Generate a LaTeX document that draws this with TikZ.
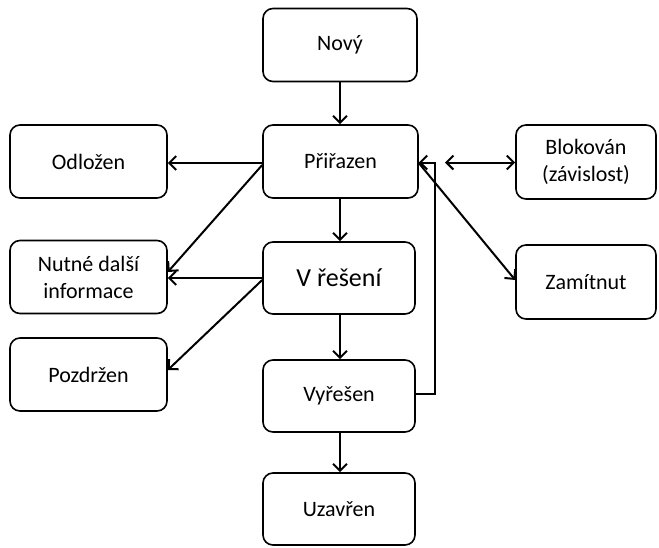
\documentclass[tikz,border=0pt]{standalone}
\usepackage{fontspec}
\setmainfont{Carlito}
\usetikzlibrary{arrows.meta}
\begin{document}
\begin{tikzpicture}[x=1pt,y=-1pt,
  state/.style={draw=black, line width=1.6pt, rounded corners=10pt, fill=white,
    align=center, inner sep=0pt, font=\fontsize{22}{27}\selectfont},
  tip/.tip={Straight Barb[length=7pt,width=14pt,line width=2pt]},
  flow/.style={line width=2pt, -tip},
  twoway/.style={line width=2pt, tip-tip}]
\useasboundingbox (0,0) rectangle (659,547);

% states
\node[state, minimum width=154pt, minimum height=73pt] (novy) at (340,45) {Nový};
\node[state, minimum width=155pt, minimum height=73pt] (prir) at (340.5,161.5) {Přiřazen};
\node[state, minimum width=157pt, minimum height=73pt] (odl)  at (88.5,161.5) {Odložen};
\node[state, minimum width=140pt, minimum height=74pt] (blok) at (586,162) {Blokován\\(závislost)};
\node[state, minimum width=157pt, minimum height=73pt] (nutne) at (88.5,277) {Nutné další\\informace};
\node[state, minimum width=152pt, minimum height=72pt, font=\fontsize{26}{30}\selectfont] (resi) at (339,278) {V řešení};
\node[state, minimum width=140pt, minimum height=74pt] (zam)  at (586,282) {Zamítnut};
\node[state, minimum width=157pt, minimum height=73pt] (pozd) at (88.5,374.5) {Pozdržen};
\node[state, minimum width=152pt, minimum height=72pt] (vyr)  at (339,396) {Vyřešen};
\node[state, minimum width=152pt, minimum height=72pt] (uzav) at (339,509) {Uzavřen};

% main line
\draw[flow] (novy.south -| 340,0) -- (prir.north -| 340,0);
\draw[flow] (prir.south -| 340,0) -- (resi.north -| 340,0);
\draw[flow] (resi.south -| 340,0) -- (vyr.north -| 340,0);
\draw[flow] (vyr.south -| 340,0) -- (uzav.north -| 340,0);

% side branches to the left
\draw[flow] (prir.west |- 0,163) -- (odl.east |- 0,163);
\draw[flow] (prir.west |- 0,165) -- (nutne.east |- 0,272);
\draw[flow] (resi.west |- 0,278) -- (nutne.east |- 0,278);
\draw[flow] (resi.west |- 0,280) -- (pozd.east |- 0,370);

% side branches to the right
\coordinate (back) at (435,162.5);
\draw[flow] (vyr.east |- 0,394) -- (435,394) -- (back) -- (prir.east |- 0,162.5);
\draw[twoway] (445,162.5) -- (blok.west |- 0,162.5);
\draw[flow] (prir.east |- 0,163) -- (zam.west |- 0,280);
\end{tikzpicture}
\end{document}
